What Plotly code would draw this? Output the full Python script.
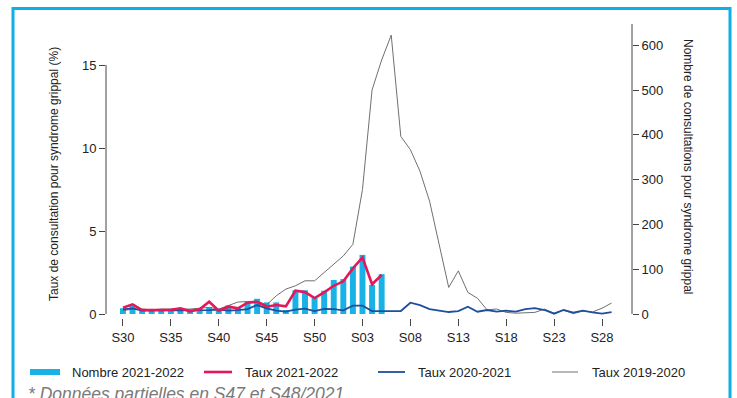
import plotly.graph_objects as go

# Semaines épidémiologiques : S30 -> S52 puis S01 -> S29
weeks = [f"S{w}" for w in range(30, 53)] + [f"S{w:02d}" for w in range(1, 30)]

tick_weeks = ["S30", "S35", "S40", "S45", "S50", "S03", "S08", "S13", "S18", "S23", "S28"]

# Saison 2021-2022 (S30 -> S05)
nombre_2021_2022 = [13, 21, 10, 8, 8, 9, 13, 7, 11, 15, 8, 19, 14, 28, 34, 26, 26, 9,
                    53, 53, 37, 52, 76, 78, 106, 132, 65, 89]
taux_2021_2022 = [0.38, 0.58, 0.24, 0.26, 0.24, 0.26, 0.34, 0.16, 0.28, 0.74, 0.20, 0.44,
                  0.34, 0.68, 0.74, 0.44, 0.54, 0.46, 1.40, 1.32, 0.96, 1.30, 1.70, 1.97,
                  2.75, 3.41, 1.79, 2.35]

taux_2020_2021 = [0.28, 0.34, 0.20, 0.20, 0.20, 0.22, 0.22, 0.20, 0.24, 0.24, 0.26, 0.20,
                  0.24, 0.30, 0.54, 0.34, 0.20, 0.14, 0.26, 0.33, 0.17, 0.31, 0.29,
                  0.22, 0.50, 0.50, 0.18, 0.18, 0.20, 0.18, 0.68, 0.54, 0.30, 0.22, 0.12,
                  0.18, 0.44, 0.14, 0.24, 0.14, 0.20, 0.14, 0.30, 0.36, 0.24, 0.02, 0.24,
                  0.08, 0.20, 0.10, 0.02, 0.12]

taux_2019_2020 = [0.20, 0.30, 0.30, 0.25, 0.30, 0.30, 0.30, 0.30, 0.35, 0.40, 0.30, 0.50,
                  0.72, 0.75, 0.78, 0.55, 1.10, 1.50, 1.70, 2.00, 2.00, 2.50, 3.00,
                  3.50, 4.20, 7.50, 13.50, 15.30, 16.80, 10.70, 9.90, 8.60, 6.80, 4.30,
                  1.60, 2.60, 1.30, 0.95, 0.25, 0.30, 0.10, 0.05, 0.08, 0.10, 0.30, 0.05,
                  0.24, 0.02, 0.18, 0.12, 0.35, 0.66]

legend_labels = ["Nombre 2021-2022", "Taux 2021-2022", "Taux 2020-2021", "Taux 2019-2020"]

CYAN = "#19b2e6"
RED = "#e3175a"
BLUE = "#1d4f9f"
GREY = "#707070"
FONT = "Liberation Sans, Arial, sans-serif"

W, H = 737, 398
ML, MR, MT, MB = 106, 105, 24, 80
PW, PH = W - ML - MR, H - MT - MB


def px(x):
    return (x - ML) / PW


def py(y):
    return (H - MB - y) / PH


fig = go.Figure()

# Nombre de consultations (axe de droite)
fig.add_trace(go.Bar(
    x=weeks[:len(nombre_2021_2022)], y=nombre_2021_2022, name=legend_labels[0],
    marker=dict(color=CYAN, line=dict(width=0)), width=0.62, yaxis="y",
))

# Taux de consultation (axe de gauche)
fig.add_trace(go.Scatter(
    x=weeks, y=taux_2019_2020, mode="lines", name=legend_labels[3],
    line=dict(color=GREY, width=1), yaxis="y2",
))
fig.add_trace(go.Scatter(
    x=weeks, y=taux_2020_2021, mode="lines", name=legend_labels[2],
    line=dict(color=BLUE, width=1.8), yaxis="y2",
))
fig.add_trace(go.Scatter(
    x=weeks[:len(taux_2021_2022)], y=taux_2021_2022, mode="lines", name=legend_labels[1],
    line=dict(color=RED, width=2.6), yaxis="y2",
))

axis_common = dict(ticks="outside", tickcolor="#444", showline=False, showgrid=False,
                   zeroline=False, tickfont=dict(size=13, color="#222"))

fig.update_layout(
    width=W, height=H,
    margin=dict(l=ML, r=MR, t=MT, b=MB, autoexpand=False),
    plot_bgcolor="white", paper_bgcolor="white",
    font=dict(family=FONT, size=13, color="#222"),
    showlegend=False,
    xaxis=dict(
        type="category", categoryorder="array", categoryarray=weeks,
        range=[-1.77, 53.13], tickmode="array", tickvals=tick_weeks, ticktext=tick_weeks,
        ticklen=7, **axis_common,
    ),
    yaxis=dict(
        side="right", range=[-8.9, 647.3], tickmode="array",
        tickvals=[0, 100, 200, 300, 400, 500, 600], ticklen=6, **axis_common,
    ),
    yaxis2=dict(
        overlaying="y", side="left", range=[-0.24, 17.47], tickmode="array",
        tickvals=[0, 5, 10, 15], ticklen=6, **axis_common,
    ),
)

# Lignes d'axes : gauche limitée à 0-15, droite jusqu'en haut
fig.add_shape(type="line", xref="paper", yref="y2", x0=0, x1=0, y0=0, y1=15,
              line=dict(color="#444", width=1))
fig.add_shape(type="line", xref="paper", yref="y", x0=1, x1=1, y0=0, y1=647.3,
              line=dict(color="#444", width=1))

# Cadre
fig.add_shape(type="rect", xref="paper", yref="paper",
              x0=px(13), x1=px(730), y0=py(430), y1=py(8.5),
              line=dict(color="#0cb0e6", width=3), fillcolor="rgba(0,0,0,0)")

# Légende
legend_items = [
    (legend_labels[0], CYAN, 6, 30, 60, 70),
    (legend_labels[1], RED, 2.6, 204, 232, 243),
    (legend_labels[2], BLUE, 1.8, 378, 405, 416),
    (legend_labels[3], GREY, 1, 552, 578, 590),
]
LEG_Y = 372
for label, color, lw, sx0, sx1, tx in legend_items:
    fig.add_shape(type="line", xref="paper", yref="paper",
                  x0=px(sx0), x1=px(sx1), y0=py(LEG_Y), y1=py(LEG_Y),
                  line=dict(color=color, width=lw))
    fig.add_annotation(text=label, xref="paper", yref="paper", x=px(tx), y=py(LEG_Y),
                       xanchor="left", yanchor="middle", showarrow=False,
                       font=dict(size=13, color="#222"))

# Titres des axes
fig.add_annotation(text="Taux de consultation pour syndrome grippal (%)",
                   xref="paper", yref="paper", x=px(45), y=py(174), textangle=-90,
                   showarrow=False, font=dict(size=12, color="#222"))
fig.add_annotation(text="Nombre de consultations pour syndrome grippal",
                   xref="paper", yref="paper", x=px(697), y=py(166), textangle=90,
                   showarrow=False, font=dict(size=12, color="#222"))

# Note de bas de page
fig.add_annotation(text="<i>* Données partielles en S47 et S48/2021</i>",
                   xref="paper", yref="paper", x=px(26), y=py(382),
                   xanchor="left", yanchor="top", showarrow=False,
                   font=dict(size=17.5, color="#7a7a7a"))

fig.write_html("out.html")
